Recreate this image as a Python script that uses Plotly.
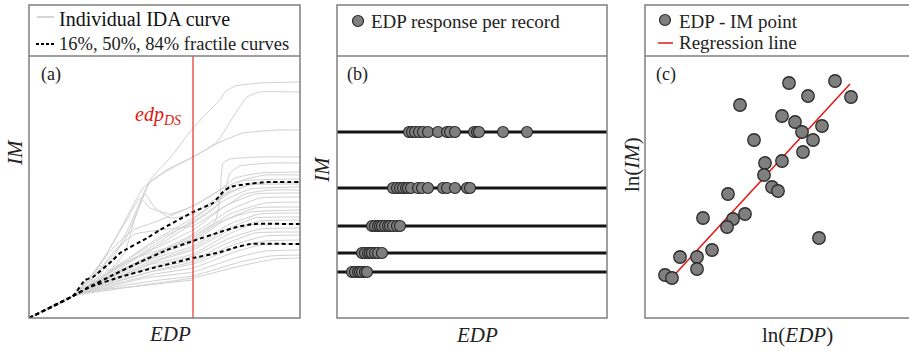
import plotly.graph_objects as go

# ---------------- DATA ----------------
# Panel (a): individual IDA curves (EDP, IM) in arbitrary units
ida_curves = [
    [(0,0),(44,22),(66,38),(86,63),(101,93),(121,138),(141,160),(164,190),(181,208),(191,218),(196,226),(206,232),(231,235),(271,236)],
    [(0,0),(44,22),(71,48),(96,78),(111,113),(121,136),(141,150),(164,161),(188,176),(204,201),(218,221),(231,226),(271,226)],
    [(0,0),(44,22),(71,53),(91,88),(114,130),(136,146),(164,161),(191,176),(214,185),(248,188),(271,188)],
    [(0,0),(44,22),(71,36),(111,56),(146,73),(171,86),(186,96),(191,118),(192,138),(194,155),(201,159),(231,161),(271,161)],
    [(0,0),(44,22),(76,40),(111,62),(141,80),(164,95),(186,110),(196,128),(201,145),(211,152),(241,155),(271,155)],
    [(0,0),(44,22),(64,45),(84,70),(104,88),(126,96),(164,112),(191,128),(206,140),(231,145),(271,146)],
    [(0,0),(44,22),(81,45),(121,70),(164,98),(194,122),(214,138),(236,143),(271,143)],
    [(0,0),(44,22),(61,40),(76,62),(96,95),(111,120),(121,110),(141,104),(164,112),(191,128),(211,137),(271,139)],
    [(0,0),(44,22),(86,50),(126,78),(164,100),(201,125),(221,134),(271,136)],
    [(0,0),(44,22),(71,42),(101,60),(136,82),(164,96),(196,118),(221,129),(271,131)],
    [(0,0),(44,22),(91,52),(131,72),(164,88),(191,108),(216,124),(241,128),(271,128)],
    [(0,0),(44,22),(66,42),(86,68),(106,84),(131,88),(164,92),(196,112),(226,124),(271,125)],
    [(0,0),(44,22),(81,42),(121,62),(164,84),(201,108),(231,120),(271,121)],
    [(0,0),(44,22),(76,40),(116,60),(164,80),(201,104),(236,115),(271,116)],
    [(0,0),(44,22),(96,48),(136,66),(164,76),(196,98),(226,110),(271,111)],
    [(0,0),(44,22),(71,40),(101,58),(131,68),(164,78),(191,96),(221,106),(271,108)],
    [(0,0),(44,22),(86,44),(126,60),(164,72),(201,94),(231,104),(271,105)],
    [(0,0),(44,22),(81,40),(121,56),(164,70),(196,88),(226,100),(271,101)],
    [(0,0),(44,22),(91,42),(131,58),(164,68),(201,88),(231,97),(271,98)],
    [(0,0),(44,22),(76,36),(116,52),(164,64),(196,82),(221,93),(271,94)],
    [(0,0),(44,22),(86,38),(126,52),(164,62),(201,80),(231,89),(271,90)],
    [(0,0),(44,22),(71,34),(111,48),(164,58),(196,74),(226,85),(271,86)],
    [(0,0),(44,22),(91,38),(136,50),(164,56),(201,72),(236,82),(271,83)],
    [(0,0),(44,22),(81,34),(121,46),(164,54),(206,70),(236,77),(271,78)],
    [(0,0),(44,22),(86,34),(126,44),(164,50),(206,66),(231,73),(271,74)],
    [(0,0),(44,22),(76,30),(116,40),(164,46),(206,60),(236,67),(271,68)],
    [(0,0),(44,22),(91,32),(131,38),(164,42),(211,56),(241,62),(271,63)],
    [(0,0),(44,22),(81,28),(121,34),(164,40),(211,52),(246,59),(271,60)],
    [(0,0),(44,22),(71,28),(111,32),(146,36),(164,38)],
    [(0,0),(44,22),(61,34),(71,52),(81,48),(96,66),(106,100),(116,124),(126,110),(141,100),(164,104),(191,122),(221,133),(271,134)],
]
frac84_edp = [0,44,56,64,84,91,118,131,164,184,194,201,218,238,271]
frac84_im  = [0,22,38,41,58,65,80,88,106,115,126,131,134,136,136]
frac50_edp = [0,44,58,84,111,138,164,191,208,224,271]
frac50_im  = [0,22,30,43,56,68,77,86,91,94,94]
frac16_edp = [0,44,61,91,124,164,188,208,221,271]
frac16_im  = [0,22,31,41,50,60,65,71,74,74]
edp_ds = 164

# Panel (b): EDP responses per record at five IM stripes
stripe_im = [186, 130, 92, 65, 46]
stripe_edp = [
    [72,75,78,82,86,91,101,110,113,118,137,140,142,166,190],
    [56,60,63,66,69,71,74,81,85,91,106,110,118,130,133],
    [35,38,41,43,45,48,51,53,56,60,63],
    [25,28,31,33,35,38,41,45],
    [15,18,21,23,25,28,30],
]

# Panel (c): ln(EDP) - ln(IM) cloud and regression line
ln_edp = [144,190,163,206,95,137,150,177,157,168,109,158,120,137,119,127,133,83,100,88,58,82,67,35,52,52,20,27,174]
ln_im  = [235,237,222,221,213,202,196,192,186,178,178,166,155,157,143,131,127,124,104,99,100,91,68,61,61,49,43,40,80]
reg_x = [22, 205]
reg_y = [35, 234]

# ---------------- FIGURE ----------------
W, H = 909, 351
def fx(p): return p / W
def fy(p): return 1 - p / H

FONT = "Liberation Serif"
GRAY_BOX = "#7f7f7f"
RED = "#e01a12"
MARK = "#7f7f7f"

fig = go.Figure()

# (a) IDA curves
for c in ida_curves:
    fig.add_trace(go.Scatter(x=[p[0] for p in c], y=[p[1] for p in c], mode="lines",
                             line=dict(color="#d0d0d0", width=1, shape="spline", smoothing=0.4),
                             xaxis="x", yaxis="y", hoverinfo="skip"))
for xs, ys in [(frac84_edp, frac84_im), (frac50_edp, frac50_im), (frac16_edp, frac16_im)]:
    fig.add_trace(go.Scatter(x=xs, y=ys, mode="lines",
                             line=dict(color="black", width=2, dash="4px,3px", shape="spline", smoothing=0.3),
                             xaxis="x", yaxis="y", hoverinfo="skip"))
fig.add_trace(go.Scatter(x=[edp_ds, edp_ds], y=[0, 262], mode="lines",
                         line=dict(color=RED, width=1.1), xaxis="x", yaxis="y", hoverinfo="skip"))

# (b) stripes
for im, edps in zip(stripe_im, stripe_edp):
    fig.add_trace(go.Scatter(x=[0, 270], y=[im, im], mode="lines",
                             line=dict(color="#151515", width=3), xaxis="x2", yaxis="y2", hoverinfo="skip"))
    fig.add_trace(go.Scatter(x=edps, y=[im] * len(edps), mode="markers",
                             marker=dict(size=11, color=MARK, line=dict(color="#2a2a2a", width=1.2)),
                             xaxis="x2", yaxis="y2", hoverinfo="skip"))

# (c) scatter + regression
fig.add_trace(go.Scatter(x=reg_x, y=reg_y, mode="lines", line=dict(color=RED, width=1.5),
                         xaxis="x3", yaxis="y3", hoverinfo="skip"))
fig.add_trace(go.Scatter(x=ln_edp, y=ln_im, mode="markers",
                         marker=dict(size=12.5, color=MARK, line=dict(color="#2a2a2a", width=1.3)),
                         xaxis="x3", yaxis="y3", hoverinfo="skip"))

ax = dict(showgrid=False, zeroline=False, showticklabels=False, ticks="", showline=False, fixedrange=True)
yd = [fy(318), fy(56)]
fig.update_layout(
    width=W, height=H, margin=dict(l=0, r=0, t=0, b=0),
    paper_bgcolor="white", plot_bgcolor="white", showlegend=False,
    font=dict(family=FONT, color="#222222"),
    xaxis=dict(ax, domain=[fx(29), fx(300)], range=[0, 271]),
    yaxis=dict(ax, domain=yd, range=[0, 262], anchor="x"),
    xaxis2=dict(ax, domain=[fx(337), fx(607)], range=[0, 270], anchor="y2"),
    yaxis2=dict(ax, domain=yd, range=[0, 262], anchor="x2"),
    xaxis3=dict(ax, domain=[fx(645), 1.0], range=[0, 264], anchor="y3"),
    yaxis3=dict(ax, domain=yd, range=[0, 262], anchor="x3"),
)

shapes = []
for l, r in [(29, 300), (337, 607), (645, 912)]:
    shapes.append(dict(type="rect", xref="paper", yref="paper", x0=fx(l), x1=fx(r), y0=fy(318), y1=fy(5),
                       line=dict(color=GRAY_BOX, width=1.5)))
    shapes.append(dict(type="line", xref="paper", yref="paper", x0=fx(l), x1=fx(r), y0=fy(56), y1=fy(56),
                       line=dict(color=GRAY_BOX, width=1.5)))
# legend samples
shapes.append(dict(type="line", xref="paper", yref="paper", x0=fx(37), x1=fx(54), y0=fy(17), y1=fy(17),
                   line=dict(color="#c8c8c8", width=1.5)))
shapes.append(dict(type="line", xref="paper", yref="paper", x0=fx(36), x1=fx(54), y0=fy(44), y1=fy(44),
                   line=dict(color="black", width=2, dash="3px,2px")))
for cx, cy in [(358, 21), (665, 20)]:
    shapes.append(dict(type="circle", xref="paper", yref="paper", x0=fx(cx - 5.5), x1=fx(cx + 5.5),
                       y0=fy(cy + 5.5), y1=fy(cy - 5.5), fillcolor=MARK, line=dict(color="#2a2a2a", width=1.2)))
shapes.append(dict(type="line", xref="paper", yref="paper", x0=fx(658), x1=fx(673), y0=fy(43), y1=fy(43),
                   line=dict(color=RED, width=1.5)))
fig.update_layout(shapes=shapes)

def ann(text, x, y, size, xanchor="left", angle=0, color="#222222"):
    fig.add_annotation(text=text, x=fx(x), y=fy(y), xref="paper", yref="paper", showarrow=False,
                       xanchor=xanchor, yanchor="middle", textangle=angle,
                       font=dict(family=FONT, size=size, color=color))

ann("Individual IDA curve", 57, 19, 20, color="#111111")
ann("16%, 50%, 84% fractile curves", 57, 44, 18.5)
ann("EDP response per record", 369, 21, 19)
ann("EDP - IM point", 677, 21, 19)
ann("Regression line", 677, 43, 19)
ann("(a)", 39, 74, 18)
ann("(b)", 345, 74, 18)
ann("(c)", 654, 74, 18)
ann("<i>edp<sub>DS</sub></i>", 133, 116, 20, color=RED)
ann("<i>IM</i>", 15, 152, 21, xanchor="center", angle=-90)
ann("<i>IM</i>", 322, 170, 21, xanchor="center", angle=-90)
ann("ln(<i>IM</i>)", 632, 165, 21, xanchor="center", angle=-90)
ann("<i>EDP</i>", 170, 334, 21, xanchor="center")
ann("<i>EDP</i>", 477, 335, 21, xanchor="center")
ann("ln(<i>EDP</i>)", 797, 335, 21, xanchor="center")

fig.write_html("out.html")
